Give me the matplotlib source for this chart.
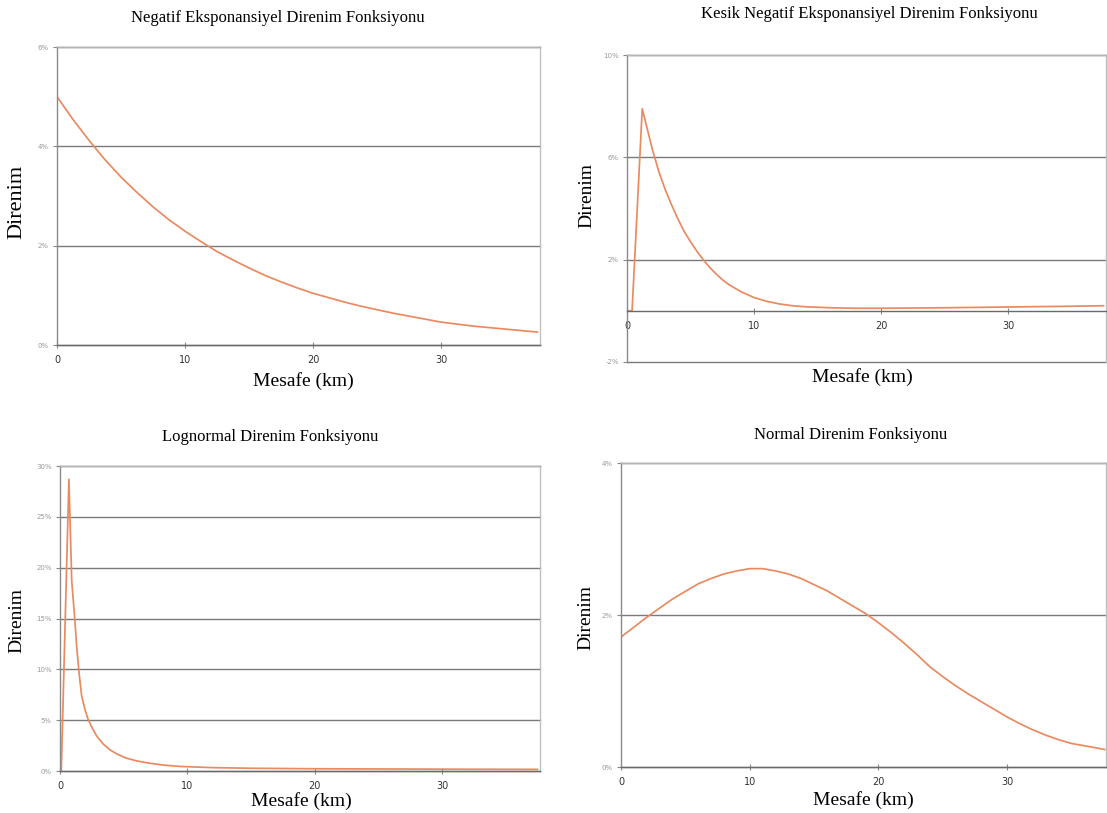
import numpy as np
import matplotlib

matplotlib.use("Agg")
import matplotlib.pyplot as plt

# ---------------------------------------------------------------- data (values in %)
neg_x = [0, 1.25, 2.5, 3.75, 5, 6.25, 7.5, 8.75, 10, 11.25, 12.5, 13.75, 15,
         16.25, 17.5, 18.75, 20, 21.25, 22.5, 23.75, 25, 26.25, 27.5, 28.75,
         30, 31.25, 32.5, 33.75, 35, 36.25, 37.5]
neg_y = [5.0, 4.54, 4.12, 3.73, 3.38, 3.07, 2.78, 2.52, 2.29, 2.08, 1.88, 1.71,
         1.55, 1.40, 1.27, 1.15, 1.04, 0.95, 0.86, 0.78, 0.71, 0.64, 0.58,
         0.52, 0.46, 0.42, 0.38, 0.35, 0.32, 0.29, 0.26]

kes_x = [0, 0.4, 1.2, 1.5, 2, 2.5, 3, 3.5, 4, 4.5, 5, 5.5, 6, 6.5, 7, 7.5, 8,
         9, 10, 11, 12, 13, 14, 16, 18, 20, 25, 30, 35, 37.5]
kes_y = [0, 0, 7.9, 7.3, 6.3, 5.45, 4.75, 4.15, 3.6, 3.1, 2.7, 2.33, 2.0, 1.7,
         1.45, 1.22, 1.03, 0.74, 0.52, 0.37, 0.27, 0.2, 0.16, 0.12, 0.1, 0.1,
         0.12, 0.15, 0.18, 0.2]

log_x = [0, 0.1, 0.7, 0.92, 1.17, 1.3, 1.5, 1.7, 1.95, 2.2, 2.5, 2.9, 3.4, 3.9,
         4.5, 5.2, 6, 7, 8, 9.4, 12, 15, 20, 25, 30, 37.5]
log_y = [0, 0, 28.7, 18.7, 14.8, 12.4, 9.6, 7.4, 6.1, 5.1, 4.3, 3.4, 2.65, 2.1,
         1.65, 1.27, 1.0, 0.77, 0.6, 0.45, 0.33, 0.27, 0.22, 0.2, 0.18, 0.16]

nor_x = [0, 1, 2, 3, 4, 5, 6, 7, 8, 9, 10, 11, 12, 13, 14, 15, 16, 17, 18, 19,
         20, 21, 22, 23, 24, 25, 26, 27, 28, 29, 30, 31, 32, 33, 34, 35, 36,
         37, 37.6]
nor_y = [1.71, 1.84, 1.97, 2.09, 2.21, 2.31, 2.41, 2.48, 2.54, 2.58, 2.61,
         2.61, 2.58, 2.54, 2.48, 2.40, 2.32, 2.22, 2.12, 2.02, 1.90, 1.77,
         1.63, 1.48, 1.32, 1.19, 1.07, 0.96, 0.86, 0.76, 0.66, 0.57, 0.49,
         0.42, 0.36, 0.31, 0.28, 0.25, 0.23]

x_ticks = [0, 10, 20, 30]
x_labels = ["0", "10", "20", "30"]

neg_yticks = [0, 2, 4, 6]
neg_ylabels = ["0%", "2%", "4%", "6%"]
kes_yticks = [-2, 2, 6, 10]
kes_ylabels = ["-2%", "2%", "6%", "10%"]
log_yticks = [0, 5, 10, 15, 20, 25, 30]
log_ylabels = ["0%", "5%", "10%", "15%", "20%", "25%", "30%"]
nor_yticks = [0, 2, 4]
nor_ylabels = ["0%", "2%", "4%"]

titles = ["Negatif Eksponansiyel Direnim Fonksiyonu",
          "Kesik Negatif Eksponansiyel Direnim Fonksiyonu",
          "Lognormal Direnim Fonksiyonu",
          "Normal Direnim Fonksiyonu"]

LINE = "#e98a60"
SERIF = ["Liberation Serif", "DejaVu Serif"]

fig = plt.figure(figsize=(11.07, 8.13), dpi=100)
W, H = 1107, 813


def add_panel(l, t, r, b):
    # pixel box -> figure fraction
    return fig.add_axes([l / W, 1 - b / H, (r - l) / W, (b - t) / H])


def style(ax, xs, ys, yticks, ylabels, ylim):
    ax.plot(xs, ys, color=LINE, lw=1.25, solid_joinstyle="round")
    ax.set_xlim(0, 37.7)
    ax.set_ylim(*ylim)
    ax.set_xticks(x_ticks)
    ax.set_xticklabels(x_labels)
    ax.set_yticks(yticks)
    ax.set_yticklabels(ylabels)
    for v in yticks:
        ax.axhline(v, color="#7a7a7a", lw=1.0, zorder=0, clip_on=False)
    ax.tick_params(axis="x", direction="inout", length=5, width=0.8,
                   color="#888888", labelsize=7, labelcolor="#333333", pad=5)
    ax.tick_params(axis="y", direction="out", length=3, width=0.8,
                   color="#888888", labelsize=5, labelcolor="#9a9a9a", pad=3)
    ax.spines["left"].set_color("#8a8a8a")
    ax.spines["bottom"].set_color("#6a6a6a")
    ax.spines["top"].set_color("#b5b5b5")
    ax.spines["right"].set_color("#c0c0c0")
    for s in ax.spines.values():
        s.set_linewidth(1.0)


ax1 = add_panel(57, 47, 540, 345)
style(ax1, neg_x, neg_y, neg_yticks, neg_ylabels, (0, 6))

ax2 = add_panel(627, 55, 1106, 362)
style(ax2, kes_x, kes_y, kes_yticks, kes_ylabels, (-2, 10))
ax2.spines["bottom"].set_position(("data", 0))

ax3 = add_panel(60, 466, 540, 771)
style(ax3, log_x, log_y, log_yticks, log_ylabels, (0, 30))

ax4 = add_panel(621, 463, 1106, 767)
style(ax4, nor_x, nor_y, nor_yticks, nor_ylabels, (0, 4))

# titles and axis labels placed like the scanned page
for (cx, cy), txt in zip([(278, 18), (869, 14), (270, 437), (851, 435)], titles):
    fig.text(cx / W, 1 - cy / H, txt, ha="center", va="center",
             fontsize=12, family=SERIF)

for cx, cy in [(303, 381), (862, 377), (301, 801), (863, 800)]:
    fig.text(cx / W, 1 - cy / H, "Mesafe (km)", ha="center", va="center",
             fontsize=14, family=SERIF)

for (cx, cy), fs in zip([(17, 202), (587, 195), (17, 620), (586, 617)],
                        [16, 14, 14, 14]):
    fig.text(cx / W, 1 - cy / H, "Direnim", ha="center", va="center",
             rotation=90, fontsize=fs, family=SERIF)

fig.savefig("out.png", dpi=100)
